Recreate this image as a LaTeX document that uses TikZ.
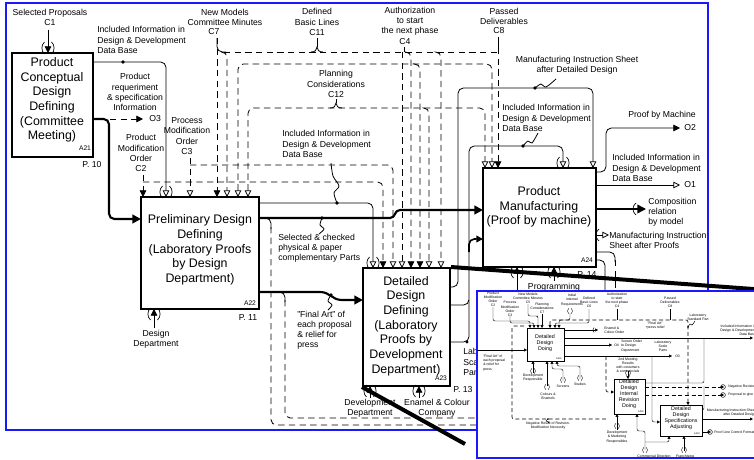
\documentclass[tikz,border=0pt]{standalone}
\usepackage{fontspec}
\setmainfont{Liberation Sans}
\usetikzlibrary{arrows.meta}
\definecolor{frameblue}{RGB}{25,25,250}
\newcommand\lbfont{\fontsize{6.5}{7.6}\selectfont}
\newcommand\bxfont{\fontsize{9.3}{11}\selectfont}
\newcommand\idfont{\fontsize{5}{6}\selectfont}
\newcommand\insetfont{\fontsize{2.6}{3.1}\selectfont}
\newcommand\insetbox{\fontsize{4}{4.6}\selectfont}
\begin{document}
\begin{tikzpicture}[x=0.75pt,y=-0.75pt,
  lbl/.style={font=\lbfont, align=center, inner sep=0pt},
  lbll/.style={lbl, align=left, anchor=west},
  btxt/.style={font=\bxfont, align=center, inner sep=0pt},
  idtxt/.style={font=\idfont, inner sep=0pt},
  itx/.style={font=\insetfont, align=center, inner sep=0pt},
  itxl/.style={itx, align=left, anchor=west},
  ibt/.style={font=\insetbox, align=center, inner sep=0pt},
  pbox/.style={draw, line width=1.5pt, inner sep=0pt},
  ibx/.style={draw, line width=0.6pt, inner sep=0pt},
  ln/.style={line width=0.6pt},
  tk/.style={line width=1.6pt},
  dl/.style={line width=0.6pt, dash pattern=on 4.8pt off 3.2pt},
  rc/.style={rounded corners=4pt},
  fa/.style={-{Triangle[length=5pt,width=5pt]}},
  fta/.style={-{Triangle[length=6.5pt,width=6.5pt]}},
  oa/.style={-{Triangle[open,length=5pt,width=5pt]}},
  oo/.style={{Triangle[open,length=5pt,width=5pt]}-{Triangle[open,length=5pt,width=5pt]}},
  iln/.style={line width=0.35pt},
  idl/.style={line width=0.45pt, dash pattern=on 3pt off 2pt},
  irc/.style={rounded corners=1.5pt},
  ifa/.style={-{Triangle[length=2.2pt,width=2.2pt]}},
  iff/.style={{Triangle[length=2.2pt,width=2.2pt]}-{Triangle[length=2.2pt,width=2.2pt]}},
  tdn/.pic={\draw[line width=0.5pt] (-3.5,-11) .. controls (-7,-8) and (-7,-2) .. (-3.5,1);
            \draw[line width=0.5pt] (3.5,-11) .. controls (7,-8) and (7,-2) .. (3.5,1);},
  tup/.pic={\draw[line width=0.5pt] (-3.5,11) .. controls (-7,8) and (-7,2) .. (-3.5,-1);
            \draw[line width=0.5pt] (3.5,11) .. controls (7,8) and (7,2) .. (3.5,-1);},
  tlt/.pic={\draw[line width=0.5pt] (-10,-6) .. controls (-14,-3) and (-14,3) .. (-10,6);},
  itc/.pic={\draw[line width=0.3pt] (-1.4,-2.6) .. controls (-2.8,-1) and (-2.8,1) .. (-1.4,2.6);
            \draw[line width=0.3pt] (1.4,-2.6) .. controls (2.8,-1) and (2.8,1) .. (1.4,2.6);},
  itlt/.pic={\draw[line width=0.3pt] (-4,-2.5) .. controls (-5.5,-1) and (-5.5,1) .. (-4,2.5);}
]
\useasboundingbox (0,0) rectangle (754,460);
\clip (0,0) rectangle (754,460);
\fill[white] (0,0) rectangle (754,460);

% outer frame
\draw[frameblue, line width=1.5pt] (6,3) rectangle (708,430);

% activity boxes
\node[pbox, minimum width=60.75pt, minimum height=78pt] (A21) at (52.5,105) {};
\node[btxt] (A21t) at (52,100) {Product\\Conceptual\\Design\\Defining\\(Committee\\Meeting)};
\node[idtxt] (A21id) at (85,148) {A21};
\node[lbl] (A21p) at (92,165) {P. 10};

\node[pbox, minimum width=88.5pt, minimum height=84pt] (A22) at (200,253) {};
\node[btxt] (A22t) at (200,250) {Preliminary Design\\Defining\\(Laboratory Proofs\\by Design\\Department)};
\node[idtxt] (A22id) at (250,303) {A22};
\node[lbl] (A22p) at (248,318) {P. 11};

\node[pbox, minimum width=65.25pt, minimum height=88.5pt] (A23) at (406.5,327) {};
\node[btxt] (A23t) at (406,326) {Detailed\\Design\\Defining\\(Laboratory\\Proofs by\\Development\\Department)};
\node[idtxt] (A23id) at (441,378) {A23};
\node[lbl] (A23p) at (463,390) {P. 13};

\node[pbox, minimum width=84.75pt, minimum height=74.25pt] (A24) at (539.5,217.5) {};
\node[btxt] (A24t) at (539,207) {Product\\Manufacturing\\(Proof by machine)};
\node[idtxt] (A24id) at (587,260) {A24};
\node[lbl] (A24p) at (587,275) {P. 14};

% labels
\node[lbl] (lC1) at (50,17) {Selected Proposals\\C1};
\node[lbl] (lC7) at (225,17) {New Models\\Committee Minutes};
\node[lbl] (lC7b) at (214,32) {C7};
\node[lbl] (lC11) at (317,22) {Defined\\Basic Lines\\C11};
\node[lbl] (lC4) at (410,21) {Authorization\\to start\\the next phase};
\node[lbl] (lC4b) at (405,42) {C4};
\node[lbl] (lC8) at (504,16) {Passed\\Deliverables};
\node[lbl] (lC8b) at (499,31) {C8};
\node[lbll] (lInfo1) at (97,40) {Included Information in\\Design \& Development\\Data Base};
\node[lbl] (lReq) at (135,92) {Product\\requeriment\\\& specification\\Information};
\node[lbl, anchor=west] (lO3) at (149,119) {O3};
\node[lbl] (lC2) at (141,153) {Product\\Modification\\Order\\C2};
\node[lbl] (lC3) at (187,136) {Process\\Modification\\Order\\C3};
\node[lbl] (lC12) at (336,84) {Planning\\Considerations\\C12};
\node[lbll] (lInfo2) at (282,144) {Included Information in\\Design \& Development\\Data Base};
\node[lbll] (lSel) at (278,248) {Selected \& checked\\physical \& paper\\complementary Parts};
\node[lbll] (lFin) at (297,330) {"Final Art" of\\each proposal\\\& relief for\\press};
\node[lbl] (lDD) at (156,339) {Design\\Department};
\node[lbl] (lDev) at (370,408) {Development\\Department};
\node[lbl] (lEn) at (437,408) {Enamel \& Colour\\Company};
\node[lbll] (lLab) at (463,362) {Laboratory\\Scale\\Parts};
\node[lbl] (lProg) at (554,287) {Programming};
\node[lbl] (lMis1) at (577,65) {Manufacturing Instruction Sheet\\after Detailed Design};
\node[lbll] (lInfo3) at (502,118) {Included Information in\\Design \& Development\\Data Base};
\node[lbl] (lProof) at (662,115) {Proof by Machine};
\node[lbl, anchor=west] (lO2) at (684,128) {O2};
\node[lbll] (lInfo4) at (612,168) {Included Information in\\Design \& Development\\Data Base};
\node[lbl, anchor=west] (lO1) at (684,185) {O1};
\node[lbll] (lComp) at (648,212) {Composition\\relation\\by model};
\node[lbll] (lMis2) at (609,240) {Manufacturing Instruction\\Sheet after Proofs};

% A21 connectors
\draw[ln, fa] (48,30) -- (48,53);
\path (48,53) pic {tdn};
\draw[ln, rc, oa] (93,62) -| (166,197);
\path (166,197) pic {tdn};
\fill (123,62) circle (1.4pt);
\draw[tk, rc, fta] (93,119) -| (109,219) -- (141,219);
\draw[dl, fa] (110,119) -- (143,119);

% control lines C2, C3
\draw[dl, fa] (143,175) -- (143,197);
\draw[dl, rc, fa] (143,182) -| (383,268);
\draw[dl, oa] (190,158) -- (190,197);
\draw[dl, rc, oa] (190,165) -| (393,268);

% control lines from the top
\draw[dl, fa] (217,38) -- (217,197);
\draw[ln, rc] (217,38) |- (226,52);
\draw[dl] (224,52) -- (498,52);
\draw[dl, rc, oa] (221,52) -| (227,197);
\draw[dl, rc, oo] (238,197) |- (492,64) -- (492,168);
\draw[dl, rc, oo] (248,197) |- (485,108) -- (485,168);
\draw[ln] (317,38) -- (317,47);
\draw[ln] (311,52) .. controls (315,52) and (317,50) .. (317,47) .. controls (317,50) and (319,52) .. (323,52);
\draw[ln] (336,99) -- (336,103);
\draw[ln] (330,108) .. controls (334,108) and (336,106) .. (336,103) .. controls (336,106) and (338,108) .. (342,108);
\draw[ln] (404,47) -- (404,52);
\draw[dl, oa] (402,52) -- (402,268);
\draw[dl, rc, fa] (406,52) -| (411,268);
\draw[dl, rc, fa] (415,64) -| (420,268);
\draw[dl, rc, oa] (424,108) -| (429,268);
\draw[dl, rc, oa] (436,52) -| (441,268);
\draw[ln] (498,37) -- (498,50);
\draw[dl, fa] (498,48) -- (498,168);

% A22 outputs
\draw[ln, rc, oa] (259,203) -| (373,268);
\path (373,268) pic {tdn};
\fill (337,203) circle (1.4pt);
\draw[ln] plot[smooth] coordinates {(337,203) (334,193) (339,186) (333,176) (331,163)};
\draw[tk, fta] (259,218) -- (390,218) .. controls (396,218) and (394,210) .. (400,210) -- (483,210);
\fill (322,218) circle (1.4pt);
\draw[ln] plot[smooth] coordinates {(322,218) (320,225) (324,229) (319,234)};
\draw[ln, rc] (262,218) -| (271,229);
\draw[dl, rc] (271,227) |- (482,425);
\draw[tk, fta] (259,292) -- (320,292) .. controls (330,292) and (332,300) .. (342,300) -- (363,300);
\fill (331,295) circle (1.4pt);
\draw[ln] plot[smooth] coordinates {(331,295) (328,301) (332,305) (328,310)};
\draw[ln, rc] (272,292) -| (285,302);
\draw[dl, rc] (285,300) |- (482,418);
\draw[ln, fa] (154,328) -- (154,309);
\path (154,309) pic {tup};

% A23 outputs and mechanisms
\draw[ln, rc, oa] (450,287) -| (458,88) -| (593,168);
\fill (535,88) circle (1.4pt);
\draw[ln] plot[smooth] coordinates {(535,88) (541,84) (546,87) (556,79)};
\draw[ln, rc, oa] (450,305) -| (469,146) -| (563,168);
\path (563,168) pic {tdn};
\fill (523,146) circle (1.4pt);
\draw[ln] plot[smooth] coordinates {(523,146) (528,141) (532,143) (538,133)};
\draw[line width=1.2pt, rc, fa] (469,252) |- (483,239);
\draw[ln, rc] (450,342) -| (469,300);
\fill (467,342) circle (1.2pt);
\draw[ln, fa] (370,398) -- (370,386);
\path (370,386) pic {tup};
\draw[ln, fa] (419,398) -- (419,386);
\path (419,386) pic {tup};

% A24 outputs and mechanisms
\draw[ln, rc, fa] (596,172) -| (606,128) -- (680,128);
\draw[ln, oa] (596,185) -- (680,185);
\draw[line width=1.1pt, fta] (596,209) -- (646,209);
\path (646,209) pic {tlt};
\draw[ln, oa] (596,235) -- (609,235);
\path (609,235) pic {tlt};
\draw[ln, rc] (596,252) -| (615,262);
\draw[dl] (615,260) -- (615,298);
\draw[ln, rc] (596,260) -| (605,298);
\draw[ln, fa] (517,298) -- (517,267);
\path (517,267) pic {tup};
\draw[ln, fa] (554,281) -- (554,267);
\path (554,267) pic {tup};

% detail pointer lines
\draw[line width=3pt] (A23.north east) -- (760,289.5);
\draw[line width=3pt] (A23.south west) -- (465,444);

% ---- detail panel of A23 ----
\fill[white] (477,291) rectangle (770,470);
\draw[frameblue, line width=1.5pt] (477,291) rectangle (770,458);

\node[ibx, minimum width=27.75pt, minimum height=24.75pt] (B1) at (545.5,344.5) {};
\node[ibt] (B1t) at (545,343) {Detailed\\Design\\Doing};
\node[font=\fontsize{1.8}{2}\selectfont, inner sep=0pt] (B1id) at (559,359) {A231};
\node[ibx, minimum width=23.25pt, minimum height=26.25pt] (B2) at (629.5,396.5) {};
\node[ibt] (B2t) at (629,394) {Detailed\\Design\\Internal\\Revision\\Doing};
\node[font=\fontsize{1.8}{2}\selectfont, inner sep=0pt] (B2id) at (641,412) {A232};
\node[ibx, minimum width=31.5pt, minimum height=23.25pt] (B3) at (681,420.5) {};
\node[ibt] (B3t) at (681,418) {Detailed\\Design\\Specifications\\Adjusting};
\node[font=\fontsize{1.8}{2}\selectfont, inner sep=0pt] (B3id) at (697,434) {A233};

\node[itx] (t1) at (493,299) {Product\\Modification\\Order\\C2};
\node[itx] (t2) at (528,298) {New Models\\Committee Minutes\\C5};
\node[itx] (t3) at (510,309) {Process\\Modification\\Order\\C3};
\node[itx] (t4) at (542,308) {Planning\\Considerations\\C7};
\node[itx] (t5) at (572,300) {Initial\\internal\\Requirements};
\node[itx] (t6) at (589,302) {Defined\\Basic Lines\\C6};
\node[itx] (t7) at (617,300) {Authorization\\to start\\the next phase\\C4};
\node[itx] (t8) at (670,302) {Passed\\Deliverables\\C8};
\node[itx] (t9) at (655,326) {"Final Art"\\+press relief};
\node[itx] (t10) at (698,317) {Laboratory\\Standard Part};
\node[itx, align=right, anchor=east] (t11) at (756,330) {Included Information in\\Design \& Development\\Data Base};
\node[itxl] (t12) at (604,330) {Enamel \&\\Colour Order};
\node[itxl] (t13) at (621,346) {Screen Order\\to Design\\Department};
\node[itxl] (t14) at (614,345) {O4};
\node[itx] (t15) at (663,346) {Laboratory\\Scale\\Parts};
\node[itxl] (t15b) at (675,356) {O3};
\node[itx] (t16) at (628,365) {2nd Meeting\\Results\\with costumers\\\& commercials};
\node[itxl] (t17) at (483,363) {"Final Art" of\\each proposal\\\& relief for\\press};
\node[itx] (t18) at (533,378) {Development\\Responsible};
\node[itx] (t19) at (548,396) {Colours \&\\Enamels};
\node[itx] (t20) at (563,386) {Screens};
\node[itx] (t21) at (580,384) {Studies};
\node[itx] (t22) at (548,426) {Negative Result of Revision.\\Modification Necessity};
\node[itx] (t23) at (617,437) {Development\\\& Marketing\\Responsibles};
\node[itx] (t24) at (654,456) {Commercial Direction};
\node[itx] (t25) at (685,457) {Franchising};
\node[itxl] (t26) at (728,387) {Negative Revision};
\node[itxl] (t27) at (728,395) {Proposal to give};
\node[itx, align=right, anchor=east] (t28) at (756,413) {Manufacturing Instruction Sheet\\after Detailed Design};
\node[itxl] (t29) at (714,432) {Proof Line Control Format};

% controls into A231
\draw[iln, irc, ifa] (493,307) |- (526,321) -| (530,328);
\draw[iln, irc, ifa] (510,316) |- (531,323) -| (534,328);
\draw[iln, irc, ifa] (528,304) |- (536,316) -| (538,328);
\draw[iln, ifa] (542,314) -- (542,328);
\draw[iln, irc, ifa] (570,313) |- (559,320) -- (559,328);
\path (570,311) pic {itc};
\draw[iln, irc, ifa] (589,309) |- (555,323) -- (555,328);
\draw[iln] (617,309) -- (617,320);
\draw[iln] (670,309) -- (670,320);
\draw[idl, irc, iff] (550,328) |- (688,320) -- (688,405);
\draw[idl, irc] (606,419) -| (512,326) -- (526,326);
\fill (548,419) circle (0.6pt);
\draw[iln] plot[smooth] coordinates {(548,419) (546,421) (549,422) (548,423)};
\fill (688,327) circle (0.6pt);
\draw[iln] plot[smooth] coordinates {(688,327) (690,324) (692,325) (695,321)};

% A231 inputs and outputs
\draw[iln, ifa] (477,350) -- (527,350);
\draw[iln, ifa] (564,330) -- (598,330);
\path (598,330) pic {itlt};
\draw[line width=0.7pt, ifa] (564,338) -- (753,338);
\draw[iln, ifa] (564,345) -- (612,345);
\draw[iln, ifa] (564,356) -- (672,356);
\draw[idl, irc, ifa] (606,356) |- (614,392);
\draw[iln, irc, ifa] (652,356) |- (660,422);
\draw[iln, ifa] (533,373) -- (533,361);
\path (533,371) pic {itc};
\draw[iln, ifa] (547,386) -- (547,361);
\path (547,387) pic {itc};
\draw[iln, irc, ifa] (563,381) |- (552,369) -- (552,361);
\path (563,380) pic {itc};
\draw[iln, irc, ifa] (580,379) |- (557,366) -- (557,361);
\path (580,378) pic {itc};

% A232
\draw[iln, ifa] (628,371) -- (628,379);
\path (628,373) pic {itc};
\draw[iln, irc] (645,383) -| (704,338);
\draw[idl, ifa] (645,387) -- (724,387);
\draw[iln] (723,387) circle (1.8pt);
\draw[idl, ifa] (645,395) -- (724,395);
\draw[iln] (723,395) circle (1.8pt);
\draw[iln, ifa] (617,430) -- (617,414);
\path (617,426) pic {itc};
\draw[iln, irc, ifa] (645,450) -- (645,431) -| (637,414);
\draw[iln, irc, ifa] (645,442) -| (669,436);
\path (645,450) pic {itc};

% A233
\draw[iln, ifa] (684,451) -- (684,436);
\path (684,450) pic {itc};
\draw[line width=0.7pt, ifa] (702,419) -- (753,419);
\draw[iln, ifa] (702,432) -- (711,432);
\draw[iln] (710,432) circle (1.8pt);
\draw[iln, irc] (702,410) -| (704,386);
\end{tikzpicture}
\end{document}
